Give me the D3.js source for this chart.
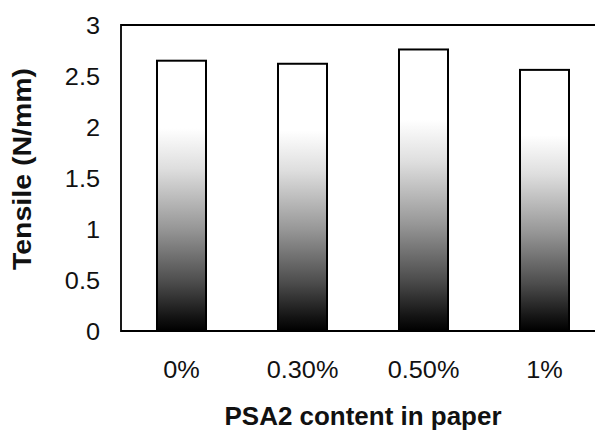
<!DOCTYPE html>
<html>
<head>
<meta charset="utf-8">
<script src="https://cdn.jsdelivr.net/npm/d3@7"></script>
<style>
  html, body { margin: 0; padding: 0; background: #fff; overflow: hidden; }
  svg { display: block; font-family: "Liberation Sans", Arial, sans-serif; }
</style>
</head>
<body>
<svg id="chart" width="595" height="431"></svg>
<script>
// Tensile strength of paper for each PSA2 loading
const categories = ["0%", "0.30%", "0.50%", "1%"];
const tensile = [2.65, 2.62, 2.76, 2.56];
const yTicks = [0, 0.5, 1, 1.5, 2, 2.5, 3];
const yTickLabels = ["0", "0.5", "1", "1.5", "2", "2.5", "3"];

const svg = d3.select("#chart");
const plot = { left: 121, top: 25, right: 605, bottom: 331 };

const x = d3.scaleBand()
  .domain(categories)
  .range([plot.left, plot.right])
  .paddingInner(0.595)
  .paddingOuter(0.2975);

const y = d3.scaleLinear()
  .domain([0, 3])
  .range([plot.bottom, plot.top]);

// Vertical white-to-black fill used inside every bar
const grad = svg.append("defs").append("linearGradient")
  .attr("id", "barFill")
  .attr("x1", 0).attr("y1", 0).attr("x2", 0).attr("y2", 1);
[[0, "#ffffff"], [0.25, "#ffffff"], [0.4, "#dedede"], [0.62, "#979797"],
 [0.82, "#4c4c4c"], [0.95, "#131313"], [1, "#000000"]]
  .forEach(([o, c]) => grad.append("stop").attr("offset", o).attr("stop-color", c));

// Wide-set lettering: stretch each label horizontally by a factor
function widen(sel, factor) {
  sel.each(function () {
    const w = this.getComputedTextLength();
    d3.select(this).attr("textLength", w * factor).attr("lengthAdjust", "spacingAndGlyphs");
  });
}

// Bars
svg.append("g").selectAll("rect")
  .data(tensile)
  .join("rect")
  .attr("x", (d, i) => x(categories[i]))
  .attr("y", d => y(d))
  .attr("width", x.bandwidth())
  .attr("height", d => y(0) - y(d))
  .attr("fill", "url(#barFill)")
  .attr("stroke", "#000")
  .attr("stroke-width", 2);

// Plot frame: top, left and baseline
svg.append("path")
  .attr("d", `M${plot.right},${plot.top}H${plot.left}V${plot.bottom}H${plot.right}`)
  .attr("fill", "none")
  .attr("stroke", "#000")
  .attr("stroke-width", 1.8);

// Y axis labels (no tick marks)
const yAxis = d3.axisLeft(y)
  .tickValues(yTicks)
  .tickFormat((d, i) => yTickLabels[i])
  .tickSize(0)
  .tickPadding(21);
const gy = svg.append("g").attr("transform", `translate(${plot.left},0)`).call(yAxis);
gy.select(".domain").remove();
gy.selectAll("text")
  .attr("font-size", 23)
  .attr("font-family", "Liberation Sans, Arial, sans-serif")
  .attr("fill", "#111")
  .attr("dy", "0.35em")
  .call(widen, 1.1);

// X axis category labels
const xAxis = d3.axisBottom(x).tickSize(0).tickPadding(0);
const gx = svg.append("g").attr("transform", `translate(0,${plot.bottom})`).call(xAxis);
gx.select(".domain").remove();
gx.selectAll("text")
  .attr("font-size", 23)
  .attr("font-family", "Liberation Sans, Arial, sans-serif")
  .attr("fill", "#111")
  .attr("y", 47)
  .attr("dy", 0)
  .call(widen, 1.1);

// Axis titles
svg.append("text")
  .attr("x", (plot.left + plot.right) / 2)
  .attr("y", 425)
  .attr("text-anchor", "middle")
  .attr("font-size", 25)
  .attr("font-weight", "bold")
  .attr("fill", "#111")
  .text("PSA2 content in paper")
  .attr("textLength", 277)
  .attr("lengthAdjust", "spacingAndGlyphs");

svg.append("text")
  .attr("transform", "translate(31,169) rotate(-90)")
  .attr("text-anchor", "middle")
  .attr("font-size", 25)
  .attr("font-weight", "bold")
  .attr("fill", "#111")
  .text("Tensile (N/mm)")
  .attr("textLength", 202)
  .attr("lengthAdjust", "spacingAndGlyphs");
</script>
</body>
</html>
